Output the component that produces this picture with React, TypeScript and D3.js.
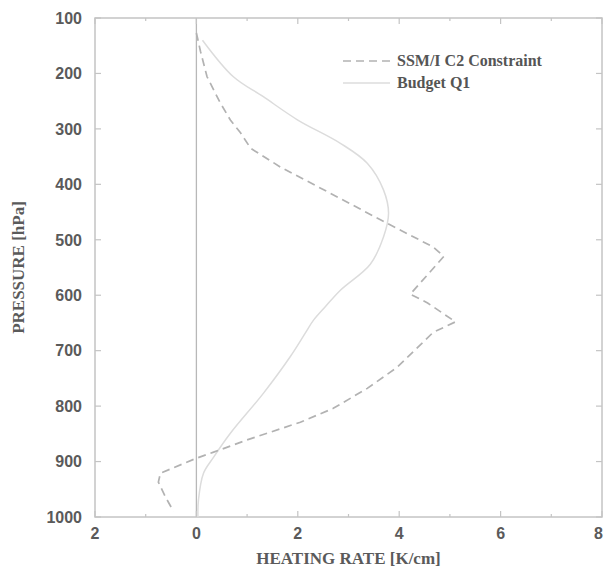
import React from "react";
import * as d3 from "d3";

// SSM/I C2 constraint profile (pressure hPa, heating rate)
const c2Pressure = [127, 160, 206, 253, 284, 307, 335, 369, 416, 464, 513, 530, 598, 614, 648, 667, 730, 768, 804, 829, 861, 883, 894, 921, 937, 964, 990];
const c2Rate = [0.0, 0.08, 0.21, 0.47, 0.67, 0.87, 1.07, 1.66, 2.64, 3.63, 4.67, 4.88, 4.22, 4.56, 5.11, 4.67, 3.96, 3.37, 2.7, 2.05, 1.0, 0.34, 0.0, -0.71, -0.75, -0.61, -0.45];

// Budget Q1 profile
const q1Pressure = [140, 206, 242, 284, 326, 362, 410, 452, 495, 544, 591, 620, 645, 668, 711, 777, 849, 892, 921, 970, 1000];
const q1Rate = [0.12, 0.73, 1.32, 2.0, 2.84, 3.37, 3.69, 3.79, 3.69, 3.43, 2.84, 2.55, 2.31, 2.15, 1.85, 1.32, 0.67, 0.34, 0.14, 0.04, 0.03];

const xTicks = [-2, 0, 2, 4, 6, 8];
const xTickLabels = ["2", "0", "2", "4", "6", "8"];
const xMinorTicks = [-1, 1, 3, 5, 7];
const yTicks = [100, 200, 300, 400, 500, 600, 700, 800, 900, 1000];

const legendLabels = ["SSM/I C2 Constraint", "Budget Q1"];

const W = 604;
const H = 570;
const M = { left: 95, right: 2, top: 18, bottom: 53 };

const App: React.FC = () => {
  const x = d3.scaleLinear().domain([-2, 8]).range([M.left, W - M.right]);
  const y = d3.scaleLinear().domain([100, 1000]).range([M.top, H - M.bottom]);

  const dashedLine = d3
    .line<[number, number]>()
    .x((d) => x(d[0]))
    .y((d) => y(d[1]));

  const smoothLine = d3
    .line<[number, number]>()
    .x((d) => x(d[0]))
    .y((d) => y(d[1]))
    .curve(d3.curveCatmullRom.alpha(0.5));

  const c2 = c2Rate.map((v, i) => [v, c2Pressure[i]] as [number, number]);
  const q1 = q1Rate.map((v, i) => [v, q1Pressure[i]] as [number, number]);

  const x0 = M.left;
  const x1 = W - M.right;
  const y0 = M.top;
  const y1 = H - M.bottom;
  const frame = "#c4c4c4";
  const tickFont = "'Liberation Sans', Arial, sans-serif";
  const serif = "'Liberation Serif', 'Times New Roman', serif";

  return (
    <svg width={W} height={H} style={{ position: "absolute", left: 0, top: 0, background: "#fff" }}>
      {/* zero line */}
      <line x1={x(0)} x2={x(0)} y1={y0} y2={y1} stroke="#b8b8b8" strokeWidth={1.3} />

      {/* ticks */}
      {xTicks.map((t) => (
        <g key={"xt" + t}>
          <line x1={x(t)} x2={x(t)} y1={y1} y2={y1 - 6} stroke={frame} strokeWidth={1.2} />
          <line x1={x(t)} x2={x(t)} y1={y0} y2={y0 + 6} stroke={frame} strokeWidth={1.2} />
        </g>
      ))}
      {xMinorTicks.map((t) => (
        <g key={"xm" + t}>
          <line x1={x(t)} x2={x(t)} y1={y1} y2={y1 - 3} stroke={frame} strokeWidth={1.2} />
          <line x1={x(t)} x2={x(t)} y1={y0} y2={y0 + 3} stroke={frame} strokeWidth={1.2} />
        </g>
      ))}
      {yTicks.map((t) => (
        <g key={"yt" + t}>
          <line x1={x0} x2={x0 + 6} y1={y(t)} y2={y(t)} stroke={frame} strokeWidth={1.2} />
          <line x1={x1} x2={x1 - 6} y1={y(t)} y2={y(t)} stroke={frame} strokeWidth={1.2} />
        </g>
      ))}

      {/* frame */}
      <rect x={x0} y={y0} width={x1 - x0} height={y1 - y0} fill="none" stroke={frame} strokeWidth={1.5} />

      {/* curves */}
      <path d={smoothLine(q1) || ""} fill="none" stroke="#dcdcdc" strokeWidth={1.5} />
      <path d={dashedLine(c2) || ""} fill="none" stroke="#b2b2b2" strokeWidth={1.7} strokeDasharray="8 5" />

      {/* tick labels */}
      {yTicks.map((t) => (
        <text
          key={"yl" + t}
          x={x0 - 13}
          y={y(t)}
          dy="0.36em"
          textAnchor="end"
          fontFamily={tickFont}
          fontSize={16}
          fontWeight="bold"
          fill="#5a5a5a"
        >
          {t}
        </text>
      ))}
      {xTicks.map((t, i) => (
        <text
          key={"xl" + t}
          x={i === xTicks.length - 1 ? W - 1 : x(t)}
          y={y1 + 22}
          textAnchor={i === xTicks.length - 1 ? "end" : "middle"}
          fontFamily={tickFont}
          fontSize={16}
          fontWeight="bold"
          fill="#5a5a5a"
        >
          {xTickLabels[i]}
        </text>
      ))}

      {/* axis titles */}
      <text
        x={(x0 + x1) / 2}
        y={H - 6}
        textAnchor="middle"
        fontFamily={serif}
        fontSize={17}
        fontWeight="bold"
        fill="#5a5a5a"
      >
        HEATING RATE [K/cm]
      </text>
      <text
        transform={`translate(24,${(y0 + y1) / 2}) rotate(-90)`}
        textAnchor="middle"
        fontFamily={serif}
        fontSize={17}
        fontWeight="bold"
        fill="#5a5a5a"
      >
        PRESSURE [hPa]
      </text>

      {/* legend */}
      <line x1={343} x2={390} y1={61} y2={61} stroke="#b2b2b2" strokeWidth={1.7} strokeDasharray="8 5" />
      <line x1={343} x2={390} y1={83} y2={83} stroke="#dcdcdc" strokeWidth={1.5} />
      <text x={397} y={66} fontFamily={serif} fontSize={16} fontWeight="bold" fill="#555">
        {legendLabels[0]}
      </text>
      <text x={397} y={88} fontFamily={serif} fontSize={16} fontWeight="bold" fill="#555">
        {legendLabels[1]}
      </text>
    </svg>
  );
};

export default App;
